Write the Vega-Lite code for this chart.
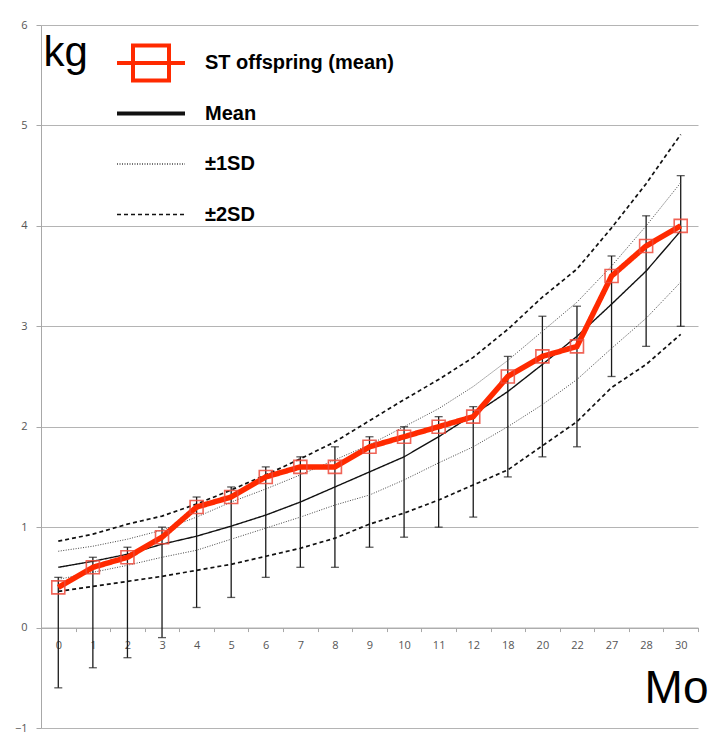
{
  "$schema": "https://vega.github.io/schema/vega-lite/v6.json",
  "width": 657,
  "height": 703,
  "autosize": {"type": "none"},
  "padding": {"left": 41, "top": 25, "right": 14, "bottom": 15},
  "background": "white",
  "config": {
    "view": {"stroke": null},
    "legend": {
      "orient": "none",
      "legendX": 100,
      "legendY": 28,
      "padding": 0,
      "gridAlign": "all",
      "symbolSize": 1156,
      "symbolType": "stroke",
      "rowPadding": 14.5,
      "labelOffset": 44,
      "labelFont": "Liberation Sans",
      "labelFontSize": 20,
      "labelFontWeight": "bold",
      "labelColor": "#000000",
      "labelLimit": 400
    }
  },
  "datasets": {
    "st": [
      {"m": 0, "st": 0.4, "lo": -0.6, "hi": 0.5},
      {"m": 1, "st": 0.6, "lo": -0.4, "hi": 0.7},
      {"m": 2, "st": 0.7, "lo": -0.3, "hi": 0.8},
      {"m": 3, "st": 0.9, "lo": -0.1, "hi": 1.0},
      {"m": 4, "st": 1.2, "lo": 0.2, "hi": 1.3},
      {"m": 5, "st": 1.3, "lo": 0.3, "hi": 1.4},
      {"m": 6, "st": 1.5, "lo": 0.5, "hi": 1.6},
      {"m": 7, "st": 1.6, "lo": 0.6, "hi": 1.7},
      {"m": 8, "st": 1.6, "lo": 0.6, "hi": 1.8},
      {"m": 9, "st": 1.8, "lo": 0.8, "hi": 1.9},
      {"m": 10, "st": 1.9, "lo": 0.9, "hi": 2.0},
      {"m": 11, "st": 2.0, "lo": 1.0, "hi": 2.1},
      {"m": 12, "st": 2.1, "lo": 1.1, "hi": 2.2},
      {"m": 18, "st": 2.5, "lo": 1.5, "hi": 2.7},
      {"m": 20, "st": 2.7, "lo": 1.7, "hi": 3.1},
      {"m": 22, "st": 2.8, "lo": 1.8, "hi": 3.2},
      {"m": 27, "st": 3.5, "lo": 2.5, "hi": 3.7},
      {"m": 28, "st": 3.8, "lo": 2.8, "hi": 4.1},
      {"m": 30, "st": 4.0, "lo": 3.0, "hi": 4.5}
    ],
    "lines": [
      {"m": 0, "series": "±2SD", "side": "u", "v": 0.86},
      {"m": 1, "series": "±2SD", "side": "u", "v": 0.93},
      {"m": 2, "series": "±2SD", "side": "u", "v": 1.03},
      {"m": 3, "series": "±2SD", "side": "u", "v": 1.11},
      {"m": 4, "series": "±2SD", "side": "u", "v": 1.23},
      {"m": 5, "series": "±2SD", "side": "u", "v": 1.37},
      {"m": 6, "series": "±2SD", "side": "u", "v": 1.52},
      {"m": 7, "series": "±2SD", "side": "u", "v": 1.68},
      {"m": 8, "series": "±2SD", "side": "u", "v": 1.85},
      {"m": 9, "series": "±2SD", "side": "u", "v": 2.06},
      {"m": 10, "series": "±2SD", "side": "u", "v": 2.27},
      {"m": 11, "series": "±2SD", "side": "u", "v": 2.47},
      {"m": 12, "series": "±2SD", "side": "u", "v": 2.69},
      {"m": 18, "series": "±2SD", "side": "u", "v": 2.97},
      {"m": 20, "series": "±2SD", "side": "u", "v": 3.29},
      {"m": 22, "series": "±2SD", "side": "u", "v": 3.57},
      {"m": 27, "series": "±2SD", "side": "u", "v": 3.98},
      {"m": 28, "series": "±2SD", "side": "u", "v": 4.42},
      {"m": 30, "series": "±2SD", "side": "u", "v": 4.91},
      {"m": 0, "series": "±2SD", "side": "l", "v": 0.36},
      {"m": 1, "series": "±2SD", "side": "l", "v": 0.41},
      {"m": 2, "series": "±2SD", "side": "l", "v": 0.46},
      {"m": 3, "series": "±2SD", "side": "l", "v": 0.51},
      {"m": 4, "series": "±2SD", "side": "l", "v": 0.57},
      {"m": 5, "series": "±2SD", "side": "l", "v": 0.63},
      {"m": 6, "series": "±2SD", "side": "l", "v": 0.71},
      {"m": 7, "series": "±2SD", "side": "l", "v": 0.79},
      {"m": 8, "series": "±2SD", "side": "l", "v": 0.89},
      {"m": 9, "series": "±2SD", "side": "l", "v": 1.03},
      {"m": 10, "series": "±2SD", "side": "l", "v": 1.14},
      {"m": 11, "series": "±2SD", "side": "l", "v": 1.27},
      {"m": 12, "series": "±2SD", "side": "l", "v": 1.42},
      {"m": 18, "series": "±2SD", "side": "l", "v": 1.57},
      {"m": 20, "series": "±2SD", "side": "l", "v": 1.81},
      {"m": 22, "series": "±2SD", "side": "l", "v": 2.05},
      {"m": 27, "series": "±2SD", "side": "l", "v": 2.39},
      {"m": 28, "series": "±2SD", "side": "l", "v": 2.62},
      {"m": 30, "series": "±2SD", "side": "l", "v": 2.92},
      {"m": 0, "series": "±1SD", "side": "u", "v": 0.76},
      {"m": 1, "series": "±1SD", "side": "u", "v": 0.81},
      {"m": 2, "series": "±1SD", "side": "u", "v": 0.88},
      {"m": 3, "series": "±1SD", "side": "u", "v": 0.97},
      {"m": 4, "series": "±1SD", "side": "u", "v": 1.10},
      {"m": 5, "series": "±1SD", "side": "u", "v": 1.25},
      {"m": 6, "series": "±1SD", "side": "u", "v": 1.38},
      {"m": 7, "series": "±1SD", "side": "u", "v": 1.52},
      {"m": 8, "series": "±1SD", "side": "u", "v": 1.67},
      {"m": 9, "series": "±1SD", "side": "u", "v": 1.82},
      {"m": 10, "series": "±1SD", "side": "u", "v": 2.0},
      {"m": 11, "series": "±1SD", "side": "u", "v": 2.18},
      {"m": 12, "series": "±1SD", "side": "u", "v": 2.40},
      {"m": 18, "series": "±1SD", "side": "u", "v": 2.66},
      {"m": 20, "series": "±1SD", "side": "u", "v": 2.95},
      {"m": 22, "series": "±1SD", "side": "u", "v": 3.24},
      {"m": 27, "series": "±1SD", "side": "u", "v": 3.6},
      {"m": 28, "series": "±1SD", "side": "u", "v": 4.0},
      {"m": 30, "series": "±1SD", "side": "u", "v": 4.43},
      {"m": 0, "series": "±1SD", "side": "l", "v": 0.48},
      {"m": 1, "series": "±1SD", "side": "l", "v": 0.55},
      {"m": 2, "series": "±1SD", "side": "l", "v": 0.62},
      {"m": 3, "series": "±1SD", "side": "l", "v": 0.70},
      {"m": 4, "series": "±1SD", "side": "l", "v": 0.77},
      {"m": 5, "series": "±1SD", "side": "l", "v": 0.88},
      {"m": 6, "series": "±1SD", "side": "l", "v": 0.99},
      {"m": 7, "series": "±1SD", "side": "l", "v": 1.10},
      {"m": 8, "series": "±1SD", "side": "l", "v": 1.22},
      {"m": 9, "series": "±1SD", "side": "l", "v": 1.32},
      {"m": 10, "series": "±1SD", "side": "l", "v": 1.47},
      {"m": 11, "series": "±1SD", "side": "l", "v": 1.64},
      {"m": 12, "series": "±1SD", "side": "l", "v": 1.80},
      {"m": 18, "series": "±1SD", "side": "l", "v": 2.0},
      {"m": 20, "series": "±1SD", "side": "l", "v": 2.22},
      {"m": 22, "series": "±1SD", "side": "l", "v": 2.47},
      {"m": 27, "series": "±1SD", "side": "l", "v": 2.78},
      {"m": 28, "series": "±1SD", "side": "l", "v": 3.08},
      {"m": 30, "series": "±1SD", "side": "l", "v": 3.44},
      {"m": 0, "series": "Mean", "side": "m", "v": 0.60},
      {"m": 1, "series": "Mean", "side": "m", "v": 0.66},
      {"m": 2, "series": "Mean", "side": "m", "v": 0.73},
      {"m": 3, "series": "Mean", "side": "m", "v": 0.83},
      {"m": 4, "series": "Mean", "side": "m", "v": 0.91},
      {"m": 5, "series": "Mean", "side": "m", "v": 1.01},
      {"m": 6, "series": "Mean", "side": "m", "v": 1.12},
      {"m": 7, "series": "Mean", "side": "m", "v": 1.25},
      {"m": 8, "series": "Mean", "side": "m", "v": 1.40},
      {"m": 9, "series": "Mean", "side": "m", "v": 1.55},
      {"m": 10, "series": "Mean", "side": "m", "v": 1.70},
      {"m": 11, "series": "Mean", "side": "m", "v": 1.90},
      {"m": 12, "series": "Mean", "side": "m", "v": 2.12},
      {"m": 18, "series": "Mean", "side": "m", "v": 2.35},
      {"m": 20, "series": "Mean", "side": "m", "v": 2.62},
      {"m": 22, "series": "Mean", "side": "m", "v": 2.90},
      {"m": 27, "series": "Mean", "side": "m", "v": 3.22},
      {"m": 28, "series": "Mean", "side": "m", "v": 3.55},
      {"m": 30, "series": "Mean", "side": "m", "v": 3.95},
      {"m": 0, "series": "ST offspring (mean)", "side": "m", "v": 0.4},
      {"m": 1, "series": "ST offspring (mean)", "side": "m", "v": 0.6},
      {"m": 2, "series": "ST offspring (mean)", "side": "m", "v": 0.7},
      {"m": 3, "series": "ST offspring (mean)", "side": "m", "v": 0.9},
      {"m": 4, "series": "ST offspring (mean)", "side": "m", "v": 1.2},
      {"m": 5, "series": "ST offspring (mean)", "side": "m", "v": 1.3},
      {"m": 6, "series": "ST offspring (mean)", "side": "m", "v": 1.5},
      {"m": 7, "series": "ST offspring (mean)", "side": "m", "v": 1.6},
      {"m": 8, "series": "ST offspring (mean)", "side": "m", "v": 1.6},
      {"m": 9, "series": "ST offspring (mean)", "side": "m", "v": 1.8},
      {"m": 10, "series": "ST offspring (mean)", "side": "m", "v": 1.9},
      {"m": 11, "series": "ST offspring (mean)", "side": "m", "v": 2.0},
      {"m": 12, "series": "ST offspring (mean)", "side": "m", "v": 2.1},
      {"m": 18, "series": "ST offspring (mean)", "side": "m", "v": 2.5},
      {"m": 20, "series": "ST offspring (mean)", "side": "m", "v": 2.7},
      {"m": 22, "series": "ST offspring (mean)", "side": "m", "v": 2.8},
      {"m": 27, "series": "ST offspring (mean)", "side": "m", "v": 3.5},
      {"m": 28, "series": "ST offspring (mean)", "side": "m", "v": 3.8},
      {"m": 30, "series": "ST offspring (mean)", "side": "m", "v": 4.0}
    ]
  },
  "encoding": {
    "x": {
      "field": "m",
      "type": "ordinal",
      "scale": {"type": "band", "domain": [0, 1, 2, 3, 4, 5, 6, 7, 8, 9, 10, 11, 12, 18, 20, 22, 27, 28, 30], "paddingInner": 0, "paddingOuter": 0},
      "axis": {
        "orient": "bottom",
        "offset": -100.43,
        "tickBand": "extent",
        "grid": false,
        "labelAngle": 0,
        "domainColor": "#a8a8a8",
        "tickColor": "#a8a8a8",
        "tickSize": 4,
        "labelPadding": 8,
        "labelFont": "Open Sans",
        "labelFontSize": 11,
        "labelColor": "#555555",
        "title": "Mo",
        "titleFont": "Liberation Sans",
        "titleFontSize": 46,
        "titleFontWeight": "normal",
        "titleColor": "#000000",
        "titleAlign": "right",
        "titleBaseline": "alphabetic",
        "titleX": 667,
        "titleY": 75
      }
    }
  },
  "layer": [
    {
      "data": {"name": "st"},
      "mark": {"type": "rule", "color": "#1a1a1a", "strokeWidth": 1.3},
      "encoding": {
        "y": {
          "field": "lo",
          "type": "quantitative",
          "scale": {"domain": [-1, 6], "nice": false, "zero": false},
          "axis": {
            "values": [-1, 0, 1, 2, 3, 4, 5, 6],
            "format": "d",
            "grid": true,
            "gridColor": "#b4b4b4",
            "gridWidth": 1,
            "domainColor": "#a8a8a8",
            "tickColor": "#a8a8a8",
            "tickSize": 5,
            "labelPadding": 9,
            "labelFont": "Open Sans",
            "labelFontSize": 11,
            "labelColor": "#555555",
            "title": "kg",
            "titleFont": "Liberation Sans",
            "titleFontSize": 42,
            "titleFontWeight": "normal",
            "titleColor": "#000000",
            "titleAngle": 0,
            "titleAlign": "left",
            "titleBaseline": "alphabetic",
            "titleX": 2,
            "titleY": 40
          }
        },
        "y2": {"field": "hi"}
      }
    },
    {
      "data": {"name": "st"},
      "mark": {"type": "tick", "color": "#1a1a1a", "size": 8, "thickness": 1.3},
      "encoding": {"y": {"field": "lo", "type": "quantitative"}}
    },
    {
      "data": {"name": "st"},
      "mark": {"type": "tick", "color": "#1a1a1a", "size": 8, "thickness": 1.3},
      "encoding": {"y": {"field": "hi", "type": "quantitative"}}
    },
    {
      "data": {"name": "lines"},
      "transform": [{"filter": "datum.series === '±2SD'"}],
      "mark": {"type": "line", "strokeWidth": 1.7},
      "encoding": {
        "y": {"field": "v", "type": "quantitative"},
        "detail": {"field": "side", "type": "nominal"},
        "color": {
          "field": "series",
          "type": "nominal",
          "scale": {"domain": ["ST offspring (mean)", "Mean", "±1SD", "±2SD"], "range": ["#ff2a00", "#111111", "#444444", "#111111"]},
          "legend": {
            "title": null,
            "symbolSize": 1156,
            "encode": {
              "symbols": {
                "update": {
                  "shape": {"signal": "datum.value === 'ST offspring (mean)' ? 'M-2,0H2M-1.06,-1.03H1.06V1.03H-1.06Z' : 'M-2,0H2'"},
                  "strokeWidth": {"signal": "datum.value === 'ST offspring (mean)' ? 4 : (datum.value === 'Mean' ? 4 : 1.7)"},
                  "size": {"value": 1156},
                  "fill": {"value": "transparent"}
                }
              }
            }
          }
        },
        "strokeDash": {
          "field": "series",
          "type": "nominal",
          "scale": {"domain": ["ST offspring (mean)", "Mean", "±1SD", "±2SD"], "range": [[1, 0], [1, 0], [1, 1.5], [4, 3]]},
          "legend": {"title": null, "symbolSize": 1156}
        }
      }
    },
    {
      "data": {"name": "lines"},
      "transform": [{"filter": "datum.series === '±1SD'"}],
      "mark": {"type": "line", "strokeWidth": 1},
      "encoding": {
        "y": {"field": "v", "type": "quantitative"},
        "detail": {"field": "side", "type": "nominal"},
        "color": {"field": "series", "type": "nominal", "legend": {"title": null, "symbolSize": 1156}},
        "strokeDash": {"field": "series", "type": "nominal", "legend": {"title": null, "symbolSize": 1156}}
      }
    },
    {
      "data": {"name": "lines"},
      "transform": [{"filter": "datum.series === 'Mean'"}],
      "mark": {"type": "line", "strokeWidth": 1.4},
      "encoding": {
        "y": {"field": "v", "type": "quantitative"},
        "color": {"field": "series", "type": "nominal", "legend": {"title": null, "symbolSize": 1156}},
        "strokeDash": {"field": "series", "type": "nominal", "legend": {"title": null, "symbolSize": 1156}}
      }
    },
    {
      "data": {"name": "lines"},
      "transform": [{"filter": "datum.series === 'ST offspring (mean)'"}],
      "mark": {"type": "line", "strokeWidth": 5.5},
      "encoding": {
        "y": {"field": "v", "type": "quantitative"},
        "color": {"field": "series", "type": "nominal", "legend": {"title": null, "symbolSize": 1156}},
        "strokeDash": {"field": "series", "type": "nominal", "legend": {"title": null, "symbolSize": 1156}}
      }
    },
    {
      "data": {"name": "st"},
      "mark": {"type": "point", "shape": "square", "filled": false, "size": 169, "stroke": "#ee4a3a", "strokeWidth": 1.6, "opacity": 0.85},
      "encoding": {"y": {"field": "st", "type": "quantitative"}}
    }
  ]
}
